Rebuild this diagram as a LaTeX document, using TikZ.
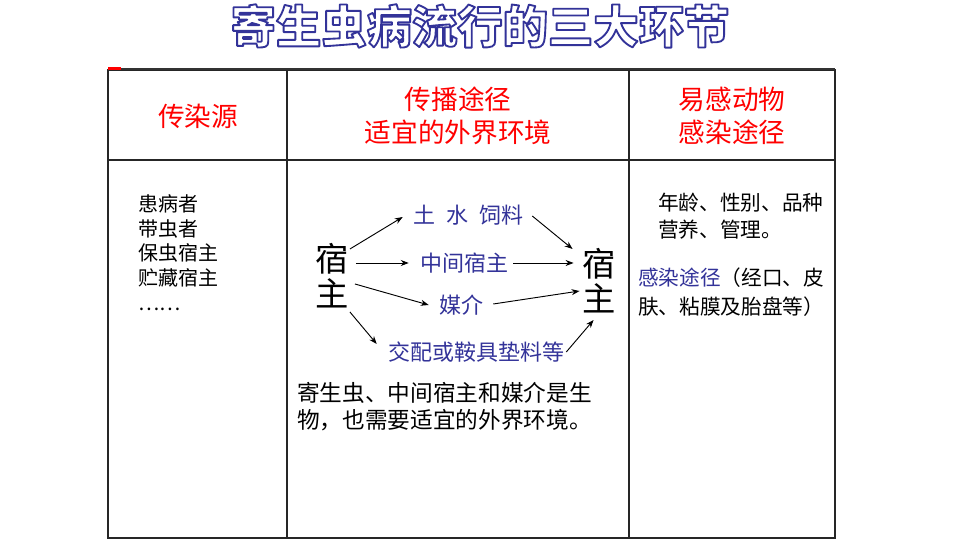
\documentclass[tikz,border=0pt]{standalone}
\usepackage{fontspec}
\setmainfont{Noto Sans CJK SC}
\usetikzlibrary{arrows.meta,calc}
\definecolor{headred}{RGB}{255,0,0}
\definecolor{routeblue}{RGB}{51,51,153}
% outlined title text: white fill, blue stroke
\newcommand{\outlinetext}[1]{\special{pdf:literal q 2 Tr 1.4 w 1 j 0.2 0.2 0.6 RG 1 g}#1\special{pdf:literal Q}}

\begin{document}
\begin{tikzpicture}[x=0.75pt,y=-0.75pt,
      grid/.style={line width=1.1pt,draw=black!85},
      head/.style={text=headred,font=\fontsize{20}{24.75}\selectfont,align=center,inner sep=0pt},
      body/.style={font=\fontsize{15}{18.56}\selectfont,align=left,inner sep=0pt,anchor=west},
      host/.style={font=\fontsize{25}{26.25}\selectfont,align=center,inner sep=0pt},
      route/.style={text=routeblue,font=\fontsize{16.5}{20}\selectfont,inner sep=0pt},
      link/.style={-{Stealth[length=6pt,width=4.5pt]},line width=.7pt}
    ]
    \useasboundingbox (0,0) rectangle (959,548);

    % title
    \node[font=\fontsize{34}{36}\selectfont\bfseries] (title) at (480,26) {\outlinetext{寄生虫病流行的三大环节}};

    % table
    \draw[grid] (108,70) rectangle (835,538);
    \draw[line width=1.8pt,black!80] (108,69) -- (835,69);
    \draw[line width=2pt,headred] (108,68.5) -- (121,68.5);
    \draw[grid] (108,160) -- (835,160);
    \draw[grid] (287,70) -- (287,538);
    \draw[grid] (629,70) -- (629,538);

    \node[head] (source) at (198,116) {传染源};
    \node[head] (route) at (458,116) {传播途径\\适宜的外界环境};
    \node[head] (suscept) at (732,116) {易感动物\\感染途径};

    \node[body] (carrier) at (138,252.5) {患病者\\带虫者\\保虫宿主\\贮藏宿主\\……};

    \node[host] (hostL) at (332,276) {宿\\主};
    \node[host] (hostR) at (599,281) {宿\\主};
    \node[route] (soil) at (468,215) {土\hspace{.5em}水\hspace{.5em}饲料};
    \node[route] (midhost) at (464,263) {中间宿主};
    \node[route] (vector) at (461,305) {媒介};
    \node[route] (mating) at (476,352) {交配或鞍具垫料等};

    \draw[link] ($(hostL.east)+(1,-27)$) -- ($(soil.west)+(-10,2)$);
    \draw[link] ($(hostL.east)+(7,-13)$) -- ($(midhost.west)+(-11,0)$);
    \draw[link] ($(hostL.east)+(6,8)$) -- ($(vector.west)+(-10,0)$);
    \draw[link] ($(hostL.east)+(1,36)$) -- ($(mating.west)+(-11,-8)$);
    \draw[link] ($(soil.east)+(9,1)$) -- ($(hostR.west)+(-9.5,-32)$);
    \draw[link] ($(midhost.east)+(5,0)$) -- ($(hostR.west)+(-8.5,-18)$);
    \draw[link] ($(vector.east)+(10,-1)$) -- ($(hostR.west)+(-2.5,10)$);
    \draw[link] ($(mating.east)+(2,0)$) -- ($(hostR.west)+(11.5,39)$);

    \node[body,font=\fontsize{17}{20.25}\selectfont] (note) at (297,406.5) {寄生虫、中间宿主和媒介是生\\物，也需要适宜的外界环境。};

    \node[body,font=\fontsize{15.5}{20.25}\selectfont] (factor) at (658,216.5) {年龄、性别、品种\\营养、管理。};
    \node[body,font=\fontsize{15.5}{21.75}\selectfont] (entry) at (638,292.5) {\textcolor{routeblue}{感染途径}（经口、皮\\肤、粘膜及胎盘等）};
  \end{tikzpicture}
\end{document}
